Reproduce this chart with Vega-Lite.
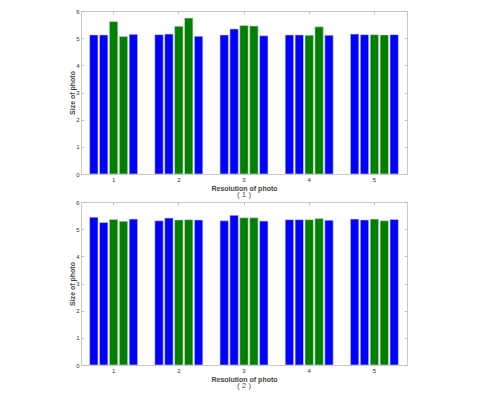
{
  "$schema": "https://vega.github.io/schema/vega-lite/v6.json",
  "background": "white",
  "padding": {"left": 68, "top": 7, "right": 5, "bottom": 5},
  "bounds": "flush",
  "spacing": 28,
  "datasets": {
    "sizes": [
      {"panel": 1, "res": 1, "series": "S1", "value": 5.12},
      {"panel": 1, "res": 1, "series": "S2", "value": 5.12},
      {"panel": 1, "res": 1, "series": "S3", "value": 5.61},
      {"panel": 1, "res": 1, "series": "S4", "value": 5.06},
      {"panel": 1, "res": 1, "series": "S5", "value": 5.14},
      {"panel": 1, "res": 2, "series": "S1", "value": 5.13},
      {"panel": 1, "res": 2, "series": "S2", "value": 5.15},
      {"panel": 1, "res": 2, "series": "S3", "value": 5.44},
      {"panel": 1, "res": 2, "series": "S4", "value": 5.74},
      {"panel": 1, "res": 2, "series": "S5", "value": 5.07},
      {"panel": 1, "res": 3, "series": "S1", "value": 5.12},
      {"panel": 1, "res": 3, "series": "S2", "value": 5.34},
      {"panel": 1, "res": 3, "series": "S3", "value": 5.47},
      {"panel": 1, "res": 3, "series": "S4", "value": 5.45},
      {"panel": 1, "res": 3, "series": "S5", "value": 5.09},
      {"panel": 1, "res": 4, "series": "S1", "value": 5.12},
      {"panel": 1, "res": 4, "series": "S2", "value": 5.12},
      {"panel": 1, "res": 4, "series": "S3", "value": 5.11},
      {"panel": 1, "res": 4, "series": "S4", "value": 5.42},
      {"panel": 1, "res": 4, "series": "S5", "value": 5.11},
      {"panel": 1, "res": 5, "series": "S1", "value": 5.15},
      {"panel": 1, "res": 5, "series": "S2", "value": 5.13},
      {"panel": 1, "res": 5, "series": "S3", "value": 5.13},
      {"panel": 1, "res": 5, "series": "S4", "value": 5.12},
      {"panel": 1, "res": 5, "series": "S5", "value": 5.13},
      {"panel": 2, "res": 1, "series": "S1", "value": 5.44},
      {"panel": 2, "res": 1, "series": "S2", "value": 5.25},
      {"panel": 2, "res": 1, "series": "S3", "value": 5.36},
      {"panel": 2, "res": 1, "series": "S4", "value": 5.29},
      {"panel": 2, "res": 1, "series": "S5", "value": 5.37},
      {"panel": 2, "res": 2, "series": "S1", "value": 5.31},
      {"panel": 2, "res": 2, "series": "S2", "value": 5.41},
      {"panel": 2, "res": 2, "series": "S3", "value": 5.34},
      {"panel": 2, "res": 2, "series": "S4", "value": 5.35},
      {"panel": 2, "res": 2, "series": "S5", "value": 5.34},
      {"panel": 2, "res": 3, "series": "S1", "value": 5.31},
      {"panel": 2, "res": 3, "series": "S2", "value": 5.51},
      {"panel": 2, "res": 3, "series": "S3", "value": 5.42},
      {"panel": 2, "res": 3, "series": "S4", "value": 5.42},
      {"panel": 2, "res": 3, "series": "S5", "value": 5.30},
      {"panel": 2, "res": 4, "series": "S1", "value": 5.35},
      {"panel": 2, "res": 4, "series": "S2", "value": 5.35},
      {"panel": 2, "res": 4, "series": "S3", "value": 5.35},
      {"panel": 2, "res": 4, "series": "S4", "value": 5.39},
      {"panel": 2, "res": 4, "series": "S5", "value": 5.33},
      {"panel": 2, "res": 5, "series": "S1", "value": 5.37},
      {"panel": 2, "res": 5, "series": "S2", "value": 5.34},
      {"panel": 2, "res": 5, "series": "S3", "value": 5.37},
      {"panel": 2, "res": 5, "series": "S4", "value": 5.31},
      {"panel": 2, "res": 5, "series": "S5", "value": 5.36}
    ]
  },
  "vconcat": [
    {
      "data": {"name": "sizes"},
      "transform": [{"filter": "datum.panel == 1"}],
      "width": 326,
      "height": 163,
      "title": {"text": "( 1 )", "orient": "bottom", "offset": 0, "color": "#555555"},
      "layer": [
        {
          "mark": {"type": "bar", "stroke": "#d8d8d8", "strokeWidth": 0.6},
          "encoding": {
            "x": {"field": "res", "type": "ordinal", "scale": {"paddingInner": 0.264, "paddingOuter": 0.132},
                  "axis": {"title": "Resolution of photo", "labelAngle": 0, "tickSize": -3, "labelPadding": 5, "titlePadding": 2}},
            "xOffset": {"field": "series", "type": "nominal", "scale": {"paddingInner": 0.15}},
            "y": {"field": "value", "type": "quantitative", "scale": {"domain": [0, 6], "nice": false},
                  "axis": {"title": "Size of photo", "values": [0, 1, 2, 3, 4, 5, 6], "tickSize": -3, "labelPadding": 5, "titlePadding": 0}},
            "color": {"field": "series", "type": "nominal", "legend": null,
                      "scale": {"domain": ["S1", "S2", "S3", "S4", "S5"], "range": ["#0000ff", "#0000ff", "#008000", "#008000", "#0000ff"]}}
          }
        },
        {
          "mark": {"type": "bar", "opacity": 0},
          "encoding": {
            "x": {"field": "res", "type": "ordinal", "axis": {"orient": "top", "labels": false, "title": null, "tickSize": -3}},
            "xOffset": {"field": "series", "type": "nominal"},
            "y": {"field": "value", "type": "quantitative", "axis": {"orient": "right", "labels": false, "title": null, "values": [0, 1, 2, 3, 4, 5, 6], "tickSize": -3}}
          }
        }
      ],
      "resolve": {"axis": {"x": "independent", "y": "independent"}}
    },
    {
      "data": {"name": "sizes"},
      "transform": [{"filter": "datum.panel == 2"}],
      "width": 326,
      "height": 163,
      "title": {"text": "( 2 )", "orient": "bottom", "offset": 0, "color": "#555555"},
      "layer": [
        {
          "mark": {"type": "bar", "stroke": "#d8d8d8", "strokeWidth": 0.6},
          "encoding": {
            "x": {"field": "res", "type": "ordinal", "scale": {"paddingInner": 0.264, "paddingOuter": 0.132},
                  "axis": {"title": "Resolution of photo", "labelAngle": 0, "tickSize": -3, "labelPadding": 5, "titlePadding": 2}},
            "xOffset": {"field": "series", "type": "nominal", "scale": {"paddingInner": 0.15}},
            "y": {"field": "value", "type": "quantitative", "scale": {"domain": [0, 6], "nice": false},
                  "axis": {"title": "Size of photo", "values": [0, 1, 2, 3, 4, 5, 6], "tickSize": -3, "labelPadding": 5, "titlePadding": 0}},
            "color": {"field": "series", "type": "nominal", "legend": null,
                      "scale": {"domain": ["S1", "S2", "S3", "S4", "S5"], "range": ["#0000ff", "#0000ff", "#008000", "#008000", "#0000ff"]}}
          }
        },
        {
          "mark": {"type": "bar", "opacity": 0},
          "encoding": {
            "x": {"field": "res", "type": "ordinal", "axis": {"orient": "top", "labels": false, "title": null, "tickSize": -3}},
            "xOffset": {"field": "series", "type": "nominal"},
            "y": {"field": "value", "type": "quantitative", "axis": {"orient": "right", "labels": false, "title": null, "values": [0, 1, 2, 3, 4, 5, 6], "tickSize": -3}}
          }
        }
      ],
      "resolve": {"axis": {"x": "independent", "y": "independent"}}
    }
  ],
  "config": {
    "view": {"stroke": "#c8c8c8", "strokeWidth": 1},
    "axis": {
      "grid": false,
      "domain": false,
      "tickColor": "#b8b8b8",
      "tickWidth": 0.8,
      "labelFont": "Liberation Sans",
      "labelFontSize": 6,
      "labelColor": "#333333",
      "titleFont": "Liberation Sans",
      "titleFontSize": 7,
      "titleFontWeight": "bold",
      "titleColor": "#444444"
    },
    "title": {"font": "Liberation Sans", "fontSize": 8, "fontWeight": "normal", "color": "#555555"}
  }
}
